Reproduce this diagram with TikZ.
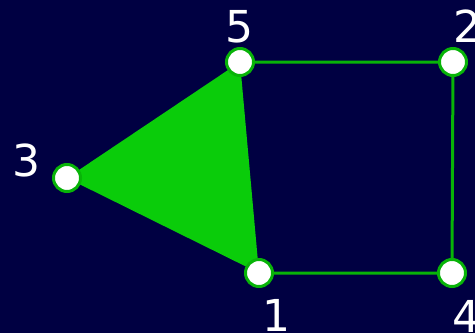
\documentclass[tikz,border=0pt]{standalone}
\usepackage{fontspec}
\setmainfont{DejaVu Sans}
\definecolor{bg}{RGB}{0,0,66}
\definecolor{edgegreen}{RGB}{8,180,8}
\definecolor{fillgreen}{RGB}{10,204,10}
\begin{document}
\begin{tikzpicture}[x=1pt,y=-1pt,
  vert/.style={circle,fill=white,draw=edgegreen,line width=3pt,minimum size=27pt,inner sep=0pt},
  lab/.style={text=white,font=\fontsize{44}{44}\selectfont,inner sep=0pt},
  edgeline/.style={draw=edgegreen,line width=3pt}]
\fill[bg] (0,0) rectangle (475,333);
\useasboundingbox (0,0) rectangle (475,333);
\coordinate (c5) at (240,62);
\coordinate (c2) at (453,62);
\coordinate (c3) at (67,178);
\coordinate (c1) at (259,273);
\coordinate (c4) at (452,273);
\fill[fillgreen] (c3) -- (c5) -- (c1) -- cycle;
\draw[edgeline] (c5) -- (c2) -- (c4) -- (c1);
\node[vert] (n5) at (c5) {};
\node[vert] (n2) at (c2) {};
\node[vert] (n3) at (c3) {};
\node[vert] (n1) at (c1) {};
\node[vert] (n4) at (c4) {};
\node[lab] (l5) at (239,27) {5};
\node[lab] (l2) at (467,26) {2};
\node[lab] (l3) at (26,160) {3};
\node[lab] (l1) at (276,315) {1};
\node[lab] (l4) at (466,316) {4};
\end{tikzpicture}
\end{document}
